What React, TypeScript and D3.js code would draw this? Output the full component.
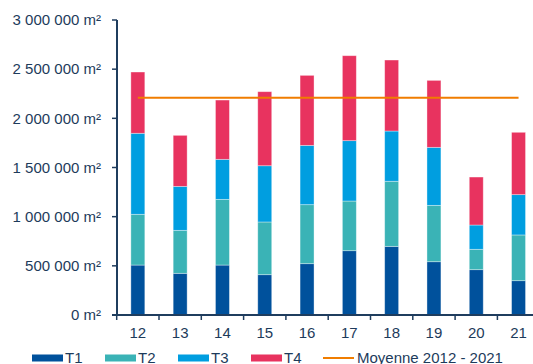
import React from "react";
import * as d3 from "d3";

const categories = ["12", "13", "14", "15", "16", "17", "18", "19", "20", "21"];
const t1 = [508000, 424000, 508000, 410000, 522000, 654000, 698000, 542000, 461000, 349000];
const t2 = [516000, 437000, 668000, 536000, 600000, 505000, 662000, 573000, 207000, 465000];
const t3 = [824000, 447000, 407000, 572000, 603000, 614000, 511000, 590000, 247000, 410000];
const t4 = [623000, 519000, 603000, 753000, 712000, 864000, 722000, 681000, 488000, 634000];
const average = 2210000;
const seriesNames = ["T1", "T2", "T3", "T4"];
const seriesColors = ["#00519C", "#3AB3B6", "#009EE0", "#E8335F"];
const averageLabel = "Moyenne 2012 - 2021";
const averageColor = "#F07D00";
const yTicks = [0, 500000, 1000000, 1500000, 2000000, 2500000, 3000000];

const W = 533;
const H = 364;
const textColor = "#1D3B5B";
const axisColor = "#1F3D5E";
const font = "'Liberation Sans', Arial, sans-serif";

export default function App() {
  const x = d3
    .scaleBand<string>()
    .domain(categories)
    .range([116.7, 539.7])
    .paddingInner(0.67)
    .paddingOuter(0.335);
  const y = d3.scaleLinear().domain([0, 3000000]).range([315, 20]);

  const rows = categories.map((c, i) => ({ cat: c, T1: t1[i], T2: t2[i], T3: t3[i], T4: t4[i] }));
  const stacked = d3.stack<any>().keys(seriesNames)(rows);

  const fmt = (v: number) => d3.format(",")(v).replace(/,/g, " ") + " m²";
  const step = x.step();
  const x0 = x.range()[0];

  const xc = (c: string) => (x(c) as number) + x.bandwidth() / 2;

  return (
    <div style={{ position: "absolute", left: 0, top: 0 }}>
      <svg width={W} height={H} style={{ display: "block", background: "#fff" }}>
        {/* bars */}
        {stacked.map((s, si) => (
          <g key={s.key} fill={seriesColors[si]}>
            {s.map((d, i) => (
              <rect
                key={i}
                x={x(categories[i])}
                y={y(d[1])}
                width={x.bandwidth()}
                height={y(d[0]) - y(d[1])}
                stroke="rgba(255,255,255,0.45)"
                strokeWidth={0.8}
              />
            ))}
          </g>
        ))}
        {/* average line */}
        <line
          x1={xc(categories[0])}
          x2={xc(categories[categories.length - 1])}
          y1={y(average)}
          y2={y(average)}
          stroke={averageColor}
          strokeWidth={2}
        />
        {/* y axis */}
        <line x1={117} x2={117} y1={y(3000000)} y2={y(0)} stroke={axisColor} strokeWidth={2} />
        {yTicks.map((t) => (
          <g key={t}>
            <line x1={112} x2={117} y1={y(t)} y2={y(t)} stroke={axisColor} strokeWidth={1.5} />
            <text
              x={101}
              y={y(t)}
              dy="0.35em"
              textAnchor="end"
              fontFamily={font}
              fontSize={15}
              fill={textColor}
            >
              {fmt(t)}
            </text>
          </g>
        ))}
        {/* x axis */}
        <line x1={112} x2={W} y1={y(0)} y2={y(0)} stroke={axisColor} strokeWidth={2} />
        {d3.range(categories.length + 1).map((i) => (
          <line
            key={i}
            x1={x0 + i * step}
            x2={x0 + i * step}
            y1={y(0)}
            y2={y(0) + 5}
            stroke={axisColor}
            strokeWidth={1.5}
          />
        ))}
        {categories.map((c) => (
          <text
            key={c}
            x={xc(c)}
            y={338}
            textAnchor="middle"
            fontFamily={font}
            fontSize={15}
            fill={textColor}
          >
            {c}
          </text>
        ))}
        {/* legend */}
        {[
          { name: "T1", x: 32 },
          { name: "T2", x: 105 },
          { name: "T3", x: 178 },
          { name: "T4", x: 251 },
        ].map((l, i) => (
          <g key={l.name}>
            <rect x={l.x} y={354.5} width={31} height={7} fill={seriesColors[i]} />
            <text x={l.x + 33} y={363} fontFamily={font} fontSize={15} fill={textColor}>
              {l.name}
            </text>
          </g>
        ))}
        <line x1={323} x2={354} y1={358} y2={358} stroke={averageColor} strokeWidth={2} />
        <text x={357} y={363} fontFamily={font} fontSize={15} fill={textColor}>
          {averageLabel}
        </text>
      </svg>
    </div>
  );
}
